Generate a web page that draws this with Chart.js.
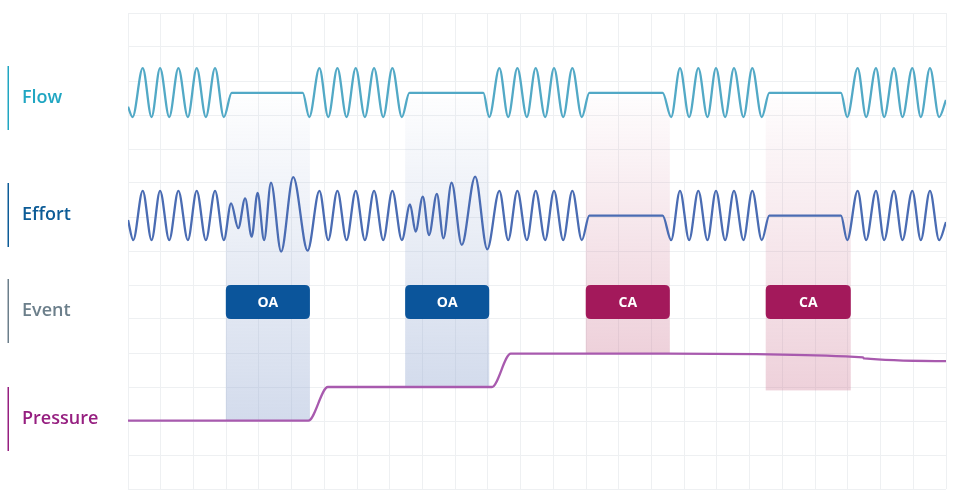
<!DOCTYPE html>
<html>
<head>
<meta charset="utf-8">
<script src="https://cdn.jsdelivr.net/npm/chart.js@4.4.0/dist/chart.umd.min.js"></script>
<style>
  html, body { margin: 0; padding: 0; background: #fff; }
  #wrap { width: 954px; height: 496px; }
</style>
</head>
<body>
<div id="wrap"><canvas id="signals" width="954" height="496"></canvas></div>
<script>
// time axis is in grid cells (25 across), value axis in grid rows (14 high)
const rowNames = ["Flow", "Effort", "Event", "Pressure"];

// flow: peaks / troughs / plateau ends
const flowTime = [0, 0.14, 0.45, 0.72, 0.98, 1.26, 1.54, 1.83, 2.10, 2.38, 2.66, 2.93, 3.17, 5.34,
  5.54, 5.85, 6.12, 6.40, 6.68, 6.96, 7.24, 7.52, 7.80, 8.08, 8.37, 8.60, 10.86,
  11.04, 11.35, 11.62, 11.90, 12.19, 12.46, 12.75, 13.02, 13.30, 13.58, 13.87, 14.10, 16.34,
  16.60, 16.87, 17.15, 17.43, 17.71, 17.97, 18.25, 18.52, 18.81, 19.08, 19.37, 19.60, 21.79,
  21.98, 22.30, 22.56, 22.86, 23.11, 23.41, 23.67, 23.97, 24.23, 24.51, 24.79, 25];
const flowValue = [11.24, 10.94, 12.38, 10.94, 12.38, 10.94, 12.38, 10.94, 12.38, 10.94, 12.38, 10.94, 11.65, 11.65,
  10.94, 12.38, 10.94, 12.38, 10.94, 12.38, 10.94, 12.38, 10.94, 12.38, 10.94, 11.65, 11.65,
  10.94, 12.38, 10.94, 12.38, 10.94, 12.38, 10.94, 12.38, 10.94, 12.38, 10.94, 11.65, 11.65,
  10.94, 12.38, 10.94, 12.38, 10.94, 12.38, 10.94, 12.38, 10.94, 12.38, 10.94, 11.65, 11.65,
  10.94, 12.38, 10.94, 12.38, 10.94, 12.38, 10.94, 12.38, 10.94, 12.38, 10.94, 11.44];

// effort: same breaths, growing swings during the obstructive events
const effortTime = [0, 0.16, 0.45, 0.72, 0.98, 1.26, 1.54, 1.83, 2.10, 2.38, 2.66, 2.93,
  3.15, 3.37, 3.58, 3.78, 3.96, 4.16, 4.37, 4.68, 5.05, 5.49,
  5.85, 6.12, 6.40, 6.68, 6.96, 7.24, 7.52, 7.80, 8.08, 8.37,
  8.62, 8.79, 9.01, 9.20, 9.44, 9.64, 9.89, 10.20, 10.61, 10.98,
  11.35, 11.62, 11.90, 12.19, 12.46, 12.75, 13.02, 13.30, 13.58, 13.87, 14.10, 16.34,
  16.60, 16.87, 17.15, 17.43, 17.71, 17.97, 18.25, 18.52, 18.81, 19.08, 19.37, 19.60, 21.79,
  21.98, 22.30, 22.56, 22.86, 23.11, 23.41, 23.67, 23.97, 24.23, 24.51, 24.79, 25];
const effortValue = [7.91, 7.32, 8.77, 7.32, 8.77, 7.32, 8.77, 7.32, 8.77, 7.32, 8.77, 7.32,
  8.40, 7.67, 8.55, 7.42, 8.71, 7.32, 9.01, 6.98, 9.17, 7.01,
  8.77, 7.32, 8.77, 7.32, 8.77, 7.32, 8.77, 7.32, 8.77, 7.32,
  8.37, 7.57, 8.60, 7.47, 8.68, 7.37, 9.01, 7.18, 9.19, 7.05,
  8.77, 7.32, 8.77, 7.32, 8.77, 7.32, 8.77, 7.32, 8.77, 7.32, 8.04, 8.04,
  7.32, 8.77, 7.32, 8.77, 7.32, 8.77, 7.32, 8.77, 7.32, 8.77, 7.32, 8.04, 8.04,
  7.32, 8.77, 7.32, 8.77, 7.32, 8.77, 7.32, 8.77, 7.32, 8.77, 7.32, 7.85];

// pressure steps up after each OA, drifts down slowly after
const pressureTime = [0, 5.51, 6.11, 11.12, 11.70, 16.50, 22.46, 22.50, 25];
const pressureValue = [2.01, 2.01, 3.0, 3.0, 3.98, 3.98, 3.87, 3.84, 3.76];

// scored events
const eventType = ["OA", "OA", "CA", "CA"];
const eventStart = [2.99, 8.47, 13.99, 19.49];
const eventEnd = [5.56, 11.04, 16.56, 22.09];
const bandFloor = [2.0, 3.0, 4.0, 2.9];

const pts = (xs, ys) => xs.map((t, i) => ({ x: t, y: ys[i] }));

function roundRect(ctx, x, y, w, h, r) {
  ctx.beginPath();
  ctx.moveTo(x + r, y);
  ctx.lineTo(x + w - r, y);
  ctx.quadraticCurveTo(x + w, y, x + w, y + r);
  ctx.lineTo(x + w, y + h - r);
  ctx.quadraticCurveTo(x + w, y + h, x + w - r, y + h);
  ctx.lineTo(x + r, y + h);
  ctx.quadraticCurveTo(x, y + h, x, y + h - r);
  ctx.lineTo(x, y + r);
  ctx.quadraticCurveTo(x, y, x + r, y);
  ctx.closePath();
}

const eventLayer = {
  id: "eventLayer",
  beforeDatasetsDraw(chart) {
    const { ctx, scales: { x, y } } = chart;
    ctx.save();
    eventType.forEach((t, i) => {
      const x0 = x.getPixelForValue(eventStart[i]);
      const x1 = x.getPixelForValue(eventEnd[i]);
      const y0 = y.getPixelForValue(11.5);
      const y1 = y.getPixelForValue(bandFloor[i]);
      const oa = t === "OA";
      const rgb = oa ? "150,170,210" : "205,120,148";
      const g = ctx.createLinearGradient(0, y0, 0, y1);
      g.addColorStop(0, "rgba(" + rgb + ",0.02)");
      g.addColorStop(1, "rgba(" + rgb + "," + (oa ? 0.42 : 0.34) + ")");
      ctx.fillStyle = g;
      ctx.fillRect(x0, y0, x1 - x0, y1 - y0);
    });
    ctx.restore();
  },
  afterDatasetsDraw(chart) {
    const { ctx, scales: { x, y } } = chart;
    ctx.save();
    eventType.forEach((t, i) => {
      const x0 = x.getPixelForValue(eventStart[i]);
      const x1 = x.getPixelForValue(eventEnd[i]);
      const y0 = y.getPixelForValue(6);
      const y1 = y.getPixelForValue(5);
      ctx.fillStyle = t === "OA" ? "#0b559b" : "#a3195b";
      roundRect(ctx, x0, y0, x1 - x0, y1 - y0, 5);
      ctx.fill();
      ctx.fillStyle = "#ffffff";
      ctx.font = "bold 14px 'Open Sans'";
      ctx.textAlign = "center";
      ctx.textBaseline = "middle";
      ctx.fillText(t, (x0 + x1) / 2, (y0 + y1) / 2 + 1);
    });
    ctx.restore();
  },
  afterDraw(chart) {
    const ctx = chart.ctx;
    const colors = ["#20a6c2", "#0d5c97", "#6c7f8b", "#961f80"];
    const centers = [98, 215, 311, 419];
    ctx.save();
    rowNames.forEach((name, i) => {
      ctx.fillStyle = colors[i];
      ctx.fillRect(7.5, centers[i] - 32, 1.5, 64);
      ctx.font = "600 18px 'Open Sans'";
      ctx.textAlign = "left";
      ctx.textBaseline = "middle";
      ctx.fillText(name, 22, centers[i]);
    });
    ctx.restore();
  }
};

const lineStyle = {
  pointRadius: 0,
  borderWidth: 2.3,
  fill: false,
  cubicInterpolationMode: "monotone"
};

new Chart(document.getElementById("signals"), {
  type: "line",
  data: {
    datasets: [
      Object.assign({ label: "Flow", data: pts(flowTime, flowValue), borderColor: "#52a9c6" }, lineStyle),
      Object.assign({ label: "Effort", data: pts(effortTime, effortValue), borderColor: "#4a6cb3" }, lineStyle),
      Object.assign({ label: "Pressure", data: pts(pressureTime, pressureValue), borderColor: "#a85aae" }, lineStyle)
    ]
  },
  options: {
    responsive: false,
    animation: false,
    devicePixelRatio: 1,
    layout: { padding: { left: 128, right: 8, top: 13, bottom: 7 } },
    plugins: { legend: { display: false }, tooltip: { enabled: false } },
    scales: {
      x: {
        type: "linear", min: 0, max: 25,
        ticks: { display: false, stepSize: 1 },
        grid: { color: "#eef0f2", drawTicks: false },
        border: { display: false }
      },
      y: {
        type: "linear", min: 0, max: 14,
        ticks: { display: false, stepSize: 1 },
        grid: { color: "#eef0f2", drawTicks: false },
        border: { display: false }
      }
    }
  },
  plugins: [eventLayer]
});
</script>
</body>
</html>
